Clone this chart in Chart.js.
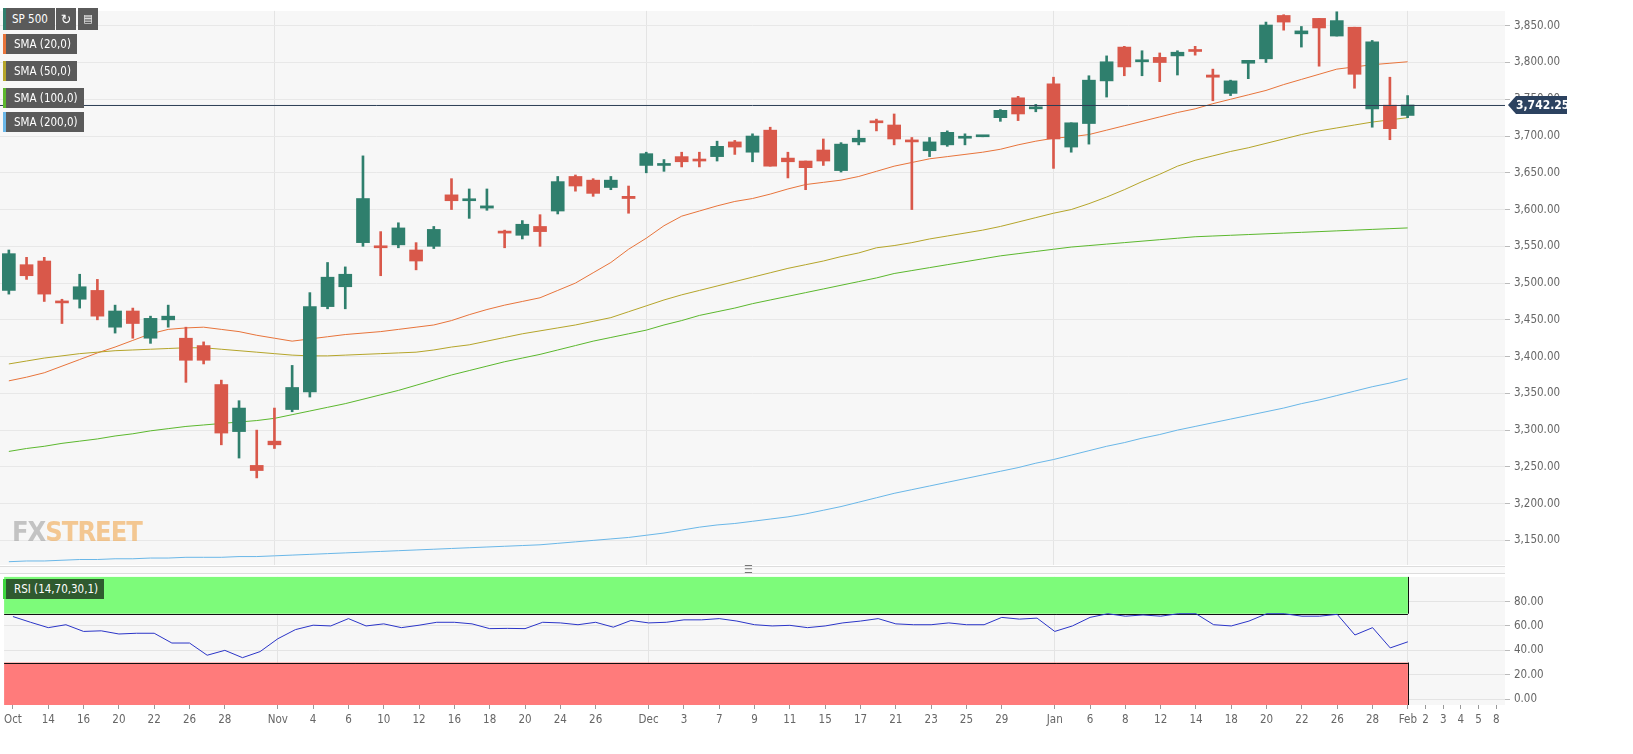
<!DOCTYPE html>
<html><head><meta charset="utf-8">
<script src="https://cdn.jsdelivr.net/npm/chart.js@4/dist/chart.umd.min.js"></script>
<style>
body{margin:0;background:#fff;width:1633px;height:754px;overflow:hidden;position:relative;font-family:"DejaVu Sans Condensed","Liberation Sans",sans-serif}
canvas{position:absolute;left:0}
.box{position:absolute;left:3px;height:20px;line-height:20px;background:#5a5a5a;color:#fff;font-size:11.5px;padding:0 6px 0 8px;border-left:3px solid #888;box-sizing:border-box;white-space:nowrap}
.ico{position:absolute;top:8px;height:22px;width:20px;background:#5a5a5a;color:#fff;font-size:14px;text-align:center;line-height:22px}
#wm{position:absolute;left:12px;top:516px;font:bold 27px "DejaVu Sans Condensed",sans-serif;letter-spacing:-1px;opacity:.55}
#sep{position:absolute;left:0;top:566px;width:1505px;height:6px;border-top:1px solid #ddd;border-bottom:1px solid #ddd;background:#fafafa}
#grip{position:absolute;left:744px;top:563px;font-size:11px;color:#777}
</style></head><body>
<canvas id="main" width="1633" height="576" style="top:0;width:1633px;height:576px"></canvas>
<canvas id="rsi" width="1633" height="188" style="top:566px;width:1633px;height:188px"></canvas>
<div id="sep"></div><div id="grip">&#9776;</div>
<div class="box" style="top:8px;height:22px;line-height:22px;border-left-color:#2f7f6d;width:52px;padding:0 0 0 6px">SP 500</div>
<div class="ico" style="left:56px">&#8635;</div><div class="ico" style="left:78px;font-size:11px">&#9636;</div>
<div class="box" style="top:34px;border-left-color:#e8743b">SMA (20,0)</div>
<div class="box" style="top:61px;border-left-color:#b5a52a">SMA (50,0)</div>
<div class="box" style="top:88px;border-left-color:#5cb82e">SMA (100,0)</div>
<div class="box" style="top:112px;border-left-color:#6ab7e8">SMA (200,0)</div>
<div class="box" style="top:579px;background:#2f5a2f;border-left-color:#3fd63f">RSI (14,70,30,1)</div>
<div id="wm"><span style="color:#9a9a9a">FX</span><span style="color:#f0a040">STREET</span></div>
<script>
const tickLabels=['Oct','','14','','16','','20','','22','','26','','28','','','Nov','','4','','6','','10','','12','','16','','18','','20','','24','','26','','','Dec','','3','','7','','9','','11','','15','','17','','21','','23','','25','','29','','','Jan','','6','','8','','12','','14','','18','','20','','22','','26','','28','','Feb','2','3','4','5','8'];
const openP=[3490,3525,3530,3475,3478,3490,3440,3462,3425,3450,3425,3415,3362,3298,3252,3285,3328,3352,3468,3495,3555,3550,3552,3545,3550,3620,3612,3602,3570,3565,3577,3598,3645,3640,3630,3618,3660,3660,3672,3668,3672,3692,3678,3708,3670,3666,3681,3653,3692,3720,3715,3694,3680,3688,3697,3699,3725,3752,3737,3771,3685,3717,3775,3821,3801,3807,3809,3817,3783,3758,3799,3805,3864,3839,3860,3836,3848,3737,3742,3728];
const highP=[3545,3535,3535,3478,3512,3505,3470,3466,3455,3470,3440,3420,3368,3340,3300,3330,3388,3487,3528,3522,3673,3570,3582,3555,3577,3642,3628,3628,3572,3585,3593,3645,3647,3642,3645,3632,3678,3668,3678,3678,3693,3694,3703,3712,3678,3666,3696,3691,3708,3723,3730,3698,3698,3707,3703,3699,3736,3754,3743,3780,3718,3782,3809,3822,3816,3813,3816,3822,3791,3776,3803,3855,3865,3849,3860,3869,3848,3830,3780,3755];
const lowP=[3485,3505,3475,3445,3466,3450,3432,3425,3418,3440,3365,3390,3280,3262,3235,3275,3325,3345,3465,3465,3550,3510,3548,3518,3547,3600,3588,3599,3548,3560,3550,3594,3625,3618,3627,3595,3650,3652,3658,3658,3666,3675,3665,3659,3643,3627,3660,3651,3688,3707,3688,3600,3672,3686,3688,3699,3720,3721,3733,3656,3678,3689,3753,3782,3782,3774,3783,3810,3748,3755,3778,3800,3844,3821,3795,3836,3765,3712,3695,3725];
const closeP=[3540,3510,3485,3473,3495,3455,3462,3445,3452,3455,3395,3395,3296,3330,3245,3280,3358,3468,3508,3512,3615,3548,3575,3530,3573,3612,3614,3605,3568,3580,3570,3638,3632,3622,3640,3615,3676,3662,3665,3666,3686,3685,3700,3659,3665,3657,3666,3689,3697,3718,3696,3692,3692,3705,3699,3699,3735,3730,3739,3696,3718,3776,3801,3794,3803,3800,3814,3815,3780,3775,3803,3851,3855,3843,3847,3857,3784,3828,3710,3742.25];
const sma20=[3367,3372,3378,3387,3396,3405,3413,3422,3431,3437,3439,3440,3437,3434,3429,3425,3421,3424,3427,3430,3432,3434,3437,3440,3443,3449,3457,3464,3470,3475,3480,3490,3500,3514,3528,3546,3561,3578,3591,3598,3605,3611,3615,3621,3628,3634,3637,3640,3645,3652,3659,3664,3669,3672,3675,3678,3682,3688,3693,3697,3699,3702,3708,3714,3720,3726,3732,3737,3744,3750,3756,3762,3770,3777,3784,3791,3794,3797,3799,3801];
const sma50=[3390,3394,3398,3401,3404,3406,3408,3409,3410,3411,3412,3412,3410,3408,3406,3404,3402,3401,3401,3402,3403,3404,3405,3406,3409,3413,3416,3421,3426,3431,3435,3439,3443,3448,3453,3461,3469,3477,3484,3490,3496,3502,3508,3514,3520,3525,3530,3536,3541,3548,3551,3555,3560,3564,3568,3572,3577,3583,3589,3595,3600,3608,3617,3627,3638,3648,3659,3667,3673,3679,3684,3690,3696,3702,3707,3711,3715,3719,3722,3725];
const sma100=[3271,3275,3278,3282,3285,3288,3292,3295,3299,3302,3305,3307,3309,3311,3313,3316,3321,3326,3331,3336,3342,3348,3354,3361,3368,3375,3381,3387,3393,3398,3403,3409,3415,3421,3426,3431,3436,3443,3449,3456,3461,3466,3472,3477,3482,3487,3492,3497,3502,3507,3513,3517,3521,3525,3529,3533,3537,3540,3543,3546,3549,3551,3553,3555,3557,3559,3561,3563,3564,3565,3566,3567,3568,3569,3570,3571,3572,3573,3574,3575];
const sma200=[3121,3122,3122,3123,3124,3124,3125,3125,3126,3126,3127,3127,3127,3128,3128,3129,3130,3131,3132,3133,3134,3135,3136,3137,3138,3139,3140,3141,3142,3143,3144,3146,3148,3150,3152,3154,3157,3160,3164,3168,3171,3173,3176,3179,3182,3186,3191,3196,3202,3208,3214,3219,3224,3229,3234,3239,3244,3249,3255,3260,3266,3272,3278,3283,3289,3294,3300,3305,3310,3315,3320,3325,3330,3336,3341,3347,3353,3359,3364,3370];
const rsi=[67.7,63,58.6,61,55.5,56,53.4,54,54,46,46,36,40,34,39,49.5,57,60.6,60,66,60,61.7,58.6,60.6,63,63,61.7,57.8,58,57.8,63,62.5,61,63,59,64.5,62.5,63,65,65,66,64,61,60,60.5,58.6,60,62.5,64,66,61.7,61,61,62.5,61,61,67,65.6,66.4,55.5,60,67,70,68,69,68,70,70,61,60,64,70,70,68,68,69.5,52.6,58.6,42,47];
const lastPrice=3742.25;

const UP='#2f7f6d',DN='#d9584a';
const colors=openP.map((o,i)=>closeP[i]>=o?UP:DN);
const monthIdx=[15,36,59,79];
const font={family:'"DejaVu Sans Condensed","Liberation Sans",sans-serif',size:11.5};
const fmt=v=>v.toLocaleString('en-US',{minimumFractionDigits:2,maximumFractionDigits:2});
const bg={id:'bg',beforeDraw(c){const a=c.chartArea,x=c.ctx;x.save();x.fillStyle='#f7f7f7';x.fillRect(a.left,a.top,a.right-a.left,a.bottom-a.top);x.restore();}};
const xGrid={offset:false,drawTicks:false,color:ctx=>monthIdx.includes(ctx.index)?'#e4e4e4':'rgba(0,0,0,0)'};

new Chart(document.getElementById('main'),{
 data:{labels:tickLabels,datasets:[
  {type:'line',data:sma200,borderColor:'#6ab7e8',borderWidth:1,pointRadius:0,order:5},
  {type:'line',data:sma100,borderColor:'#5cb82e',borderWidth:1,pointRadius:0,order:5},
  {type:'line',data:sma50,borderColor:'#b5a52a',borderWidth:1,pointRadius:0,order:5},
  {type:'line',data:sma20,borderColor:'#e8743b',borderWidth:1,pointRadius:0,order:5},
  {type:'bar',data:lowP.map((l,i)=>[l,highP[i]]),backgroundColor:colors,barThickness:2,grouped:false,order:2},
  {type:'bar',data:openP.map((o,i)=>[o,closeP[i]]),backgroundColor:colors,barThickness:13,minBarLength:2,grouped:false,order:1}
 ]},
 options:{responsive:false,animation:false,layout:{padding:{top:0,bottom:0,left:0,right:0}},
  plugins:{legend:{display:false},tooltip:{enabled:false}},
  scales:{
   x:{offset:true,grid:xGrid,border:{display:false},ticks:{display:false},afterFit:s=>{s.height=0;}},
   y:{position:'right',min:3116.4,max:3870.2,border:{display:false},
     grid:{color:'#e8e8e8',tickLength:5,tickColor:'#bbb'},
     afterBuildTicks:s=>{s.ticks=[];for(let v=3150;v<=3850;v+=50)s.ticks.push({value:v});},
     afterFit:s=>{s.width=128;},
     ticks:{color:'#666',font,padding:4,callback:v=>fmt(v)}}
  }},
 plugins:[bg,{id:'last',afterDraw(c){const x=c.ctx,a=c.chartArea,y=c.scales.y.getPixelForValue(lastPrice);
  x.save();x.strokeStyle='#2c3e55';x.lineWidth=1;x.beginPath();x.moveTo(a.left,y+.5);x.lineTo(a.right,y+.5);x.stroke();
  x.fillStyle='#2c4260';x.beginPath();x.moveTo(a.right+3,y);x.lineTo(a.right+11,y-9);x.lineTo(a.right+62,y-9);x.lineTo(a.right+62,y+9);x.lineTo(a.right+11,y+9);x.closePath();x.fill();
  x.fillStyle='#fff';x.font='bold 12px "DejaVu Sans Condensed",sans-serif';x.textBaseline='middle';x.fillText(fmt(lastPrice),a.right+11,y+1);x.restore();}}]
});

new Chart(document.getElementById('rsi'),{
 data:{labels:tickLabels,datasets:[{type:'line',data:rsi,borderColor:'#2b35c8',borderWidth:1,pointRadius:0}]},
 options:{responsive:false,animation:false,layout:{padding:{top:9,bottom:0}},
  plugins:{legend:{display:false},tooltip:{enabled:false}},
  scales:{
   x:{offset:true,border:{display:false},
     grid:{offset:false,drawTicks:true,tickLength:4,color:ctx=>monthIdx.includes(ctx.index)?'#e4e4e4':'rgba(0,0,0,0)',tickColor:ctx=>tickLabels[ctx.index]?'#999':'rgba(0,0,0,0)'},
     ticks:{autoSkip:false,maxRotation:0,color:'#666',font,padding:4},
     afterFit:s=>{s.height=49;}},
   y:{position:'right',min:-4.8,max:100.2,border:{display:false},
     grid:{color:'#e4e4e4',tickLength:5,tickColor:'#bbb'},
     afterBuildTicks:s=>{s.ticks=[0,20,40,60,80].map(v=>({value:v}));},
     afterFit:s=>{s.width=128;},
     ticks:{color:'#666',font,padding:4,callback:v=>fmt(v)}}
  }},
 plugins:[bg,{id:'bands',beforeDatasetsDraw(c){const x=c.ctx,a=c.chartArea,ys=c.scales.y,xs=c.scales.x;const r=xs.getPixelForValue(79);
  const y100=ys.getPixelForValue(100.2),y70=ys.getPixelForValue(70),y30=ys.getPixelForValue(30),y0=ys.getPixelForValue(-4.8);
  x.save();x.fillStyle='#7dfb7a';x.fillRect(a.left,y100,r-a.left,y70-y100);x.fillStyle='#ff7b7b';x.fillRect(a.left,y30,r-a.left,y0-y30);
  x.strokeStyle='#111';x.lineWidth=1;x.beginPath();x.moveTo(a.left,Math.round(y70)+.5);x.lineTo(r,Math.round(y70)+.5);x.moveTo(a.left,Math.round(y30)+.5);x.lineTo(r,Math.round(y30)+.5);
  x.moveTo(Math.round(r)+.5,y100);x.lineTo(Math.round(r)+.5,y70);x.moveTo(Math.round(r)+.5,y30);x.lineTo(Math.round(r)+.5,y0);x.stroke();x.restore();}}]
});
</script></body></html>
